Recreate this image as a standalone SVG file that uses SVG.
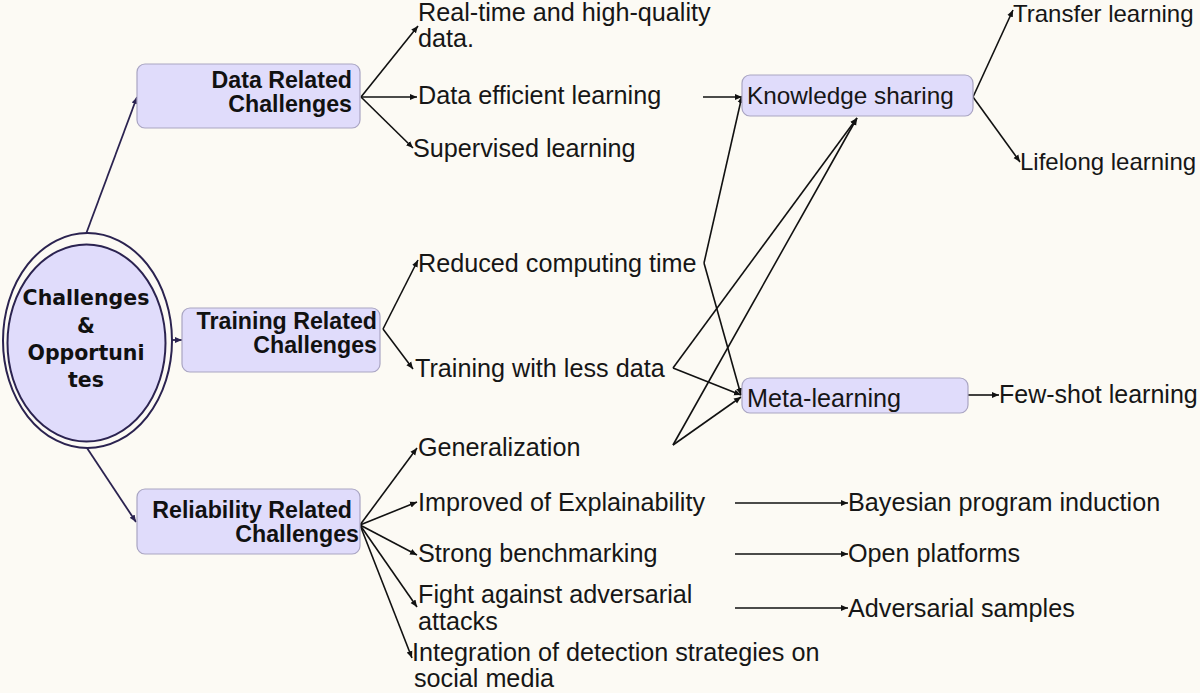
<svg xmlns="http://www.w3.org/2000/svg" width="1200" height="693" viewBox="0 0 1200 693">
  <defs>
    <style>
      .bg { fill: #fcfaf4; }
      .box { fill: #e0dcfb; stroke: #a9a5c2; stroke-width: 1.2; }
      .bt { font-family: "Liberation Sans", Arial, sans-serif; font-weight: bold; font-size: 23.2px; fill: #111; text-anchor: end; }
      .ct { font-family: "DejaVu Sans", sans-serif; font-weight: bold; font-size: 20.5px; fill: #111; text-anchor: middle; }
      .t { font-family: "Liberation Sans", Arial, sans-serif; font-size: 25.2px; fill: #161616; }
      .ln { fill: none; stroke: #111; stroke-width: 1.6; marker-end: url(#ah); }
      .pl { fill: none; stroke: #2b2350; stroke-width: 1.8; marker-end: url(#ahp); }
    </style>
    <marker id="ah" markerWidth="8" markerHeight="8" refX="7" refY="4" orient="auto" markerUnits="userSpaceOnUse">
      <path d="M0,1 L7,4 L0,7 Z" fill="#111"/>
    </marker>
    <marker id="ahp" markerWidth="8" markerHeight="8" refX="7" refY="4" orient="auto" markerUnits="userSpaceOnUse">
      <path d="M0,1 L7,4 L0,7 Z" fill="#2b2350"/>
    </marker>
  </defs>
  <rect class="bg" x="0" y="0" width="1200" height="693"/>

  <g id="connectors">
    <!-- from center ellipse -->
    <line class="pl" x1="86" y1="234" x2="137" y2="97"/>
    <line class="pl" x1="172" y1="340" x2="182" y2="340"/>
    <line class="pl" x1="87" y1="448" x2="136" y2="522"/>
    <!-- data box -->
    <line class="ln" x1="361" y1="97" x2="418" y2="26"/>
    <line class="ln" x1="361" y1="97" x2="417" y2="97"/>
    <line class="ln" x1="361" y1="97" x2="413" y2="148"/>
    <!-- training box -->
    <line class="ln" x1="383" y1="329" x2="418" y2="260"/>
    <line class="ln" x1="383" y1="329" x2="413" y2="369"/>
    <!-- reliability box -->
    <line class="ln" x1="360" y1="525" x2="417" y2="448"/>
    <line class="ln" x1="360" y1="525" x2="417" y2="502"/>
    <line class="ln" x1="360" y1="525" x2="417" y2="555"/>
    <line class="ln" x1="360" y1="525" x2="417" y2="607"/>
    <line class="ln" x1="360" y1="525" x2="412" y2="658"/>
    <!-- to knowledge sharing / meta-learning -->
    <line class="ln" x1="703" y1="97" x2="742" y2="97"/>
    <line class="ln" x1="704" y1="263" x2="742" y2="96"/>
    <line class="ln" x1="704" y1="263" x2="741" y2="395"/>
    <line class="ln" x1="673" y1="368" x2="857" y2="118"/>
    <line class="ln" x1="673" y1="368" x2="741" y2="395"/>
    <line class="ln" x1="673" y1="445" x2="857" y2="118"/>
    <line class="ln" x1="673" y1="445" x2="741" y2="397"/>
    <!-- knowledge sharing children -->
    <line class="ln" x1="973" y1="97" x2="1013" y2="10"/>
    <line class="ln" x1="973" y1="97" x2="1020" y2="162"/>
    <!-- meta-learning child -->
    <line class="ln" x1="968" y1="395" x2="999" y2="395"/>
    <!-- reliability sub items -->
    <line class="ln" x1="735" y1="503" x2="848" y2="503"/>
    <line class="ln" x1="735" y1="554" x2="848" y2="554"/>
    <line class="ln" x1="735" y1="608" x2="848" y2="608"/>
  </g>

  <g id="center">
    <ellipse cx="87.5" cy="340.5" rx="84.5" ry="107.5" fill="#fcfaf4" stroke="#2b2350" stroke-width="2"/>
    <ellipse cx="86.5" cy="343" rx="79" ry="98.5" fill="#e0dcfb" stroke="#2b2350" stroke-width="2"/>
    <text class="ct" x="86" y="305">Challenges</text>
    <text class="ct" x="86" y="333">&amp;</text>
    <text class="ct" x="86" y="360">Opportuni</text>
    <text class="ct" x="86" y="387">tes</text>
  </g>

  <g id="data-box">
    <rect class="box" x="137" y="64" width="223" height="64" rx="8"/>
    <text class="bt" x="352" y="88">Data Related</text>
    <text class="bt" x="352" y="112">Challenges</text>
  </g>
  <g id="training-box">
    <rect class="box" x="182" y="308" width="198" height="64" rx="8"/>
    <text class="bt" x="377" y="329">Training Related</text>
    <text class="bt" x="377" y="353">Challenges</text>
  </g>
  <g id="reliability-box">
    <rect class="box" x="137" y="489" width="223" height="65" rx="8"/>
    <text class="bt" x="352" y="518">Reliability Related</text>
    <text class="bt" x="359" y="542">Challenges</text>
  </g>
  <g id="knowledge-sharing">
    <rect class="box" x="742" y="75" width="231" height="41" rx="8"/>
    <text class="t" x="747" y="104" style="font-size:24.3px">Knowledge sharing</text>
  </g>
  <g id="meta-learning">
    <rect class="box" x="742" y="378" width="226" height="35" rx="8"/>
    <text class="t" x="747" y="407">Meta-learning</text>
  </g>

  <g id="real-time"><text class="t" x="418" y="21">Real-time and high-quality</text><text class="t" x="418" y="47">data.</text></g>
  <g id="data-efficient"><text class="t" x="418" y="104">Data efficient learning</text></g>
  <g id="supervised"><text class="t" x="413" y="157">Supervised learning</text></g>
  <g id="reduced"><text class="t" x="418" y="272">Reduced computing time</text></g>
  <g id="less-data"><text class="t" x="415" y="377">Training with less data</text></g>
  <g id="generalization"><text class="t" x="418" y="456">Generalization</text></g>
  <g id="explainability"><text class="t" x="418" y="511">Improved of Explainability</text></g>
  <g id="benchmarking"><text class="t" x="418" y="562">Strong benchmarking</text></g>
  <g id="adversarial-attacks"><text class="t" x="418" y="603">Fight against adversarial</text><text class="t" x="418" y="630">attacks</text></g>
  <g id="integration"><text class="t" x="412" y="661">Integration of detection strategies on</text><text class="t" x="414" y="687">social media</text></g>
  <g id="transfer"><text class="t" x="1013" y="22" style="font-size:24px">Transfer learning</text></g>
  <g id="lifelong"><text class="t" x="1020" y="170" style="font-size:24px">Lifelong learning</text></g>
  <g id="few-shot"><text class="t" x="999" y="403" style="font-size:25px">Few-shot learning</text></g>
  <g id="bayesian"><text class="t" x="848" y="511">Bayesian program induction</text></g>
  <g id="open-platforms"><text class="t" x="848" y="562">Open platforms</text></g>
  <g id="adversarial-samples"><text class="t" x="848" y="617">Adversarial samples</text></g>
</svg>
